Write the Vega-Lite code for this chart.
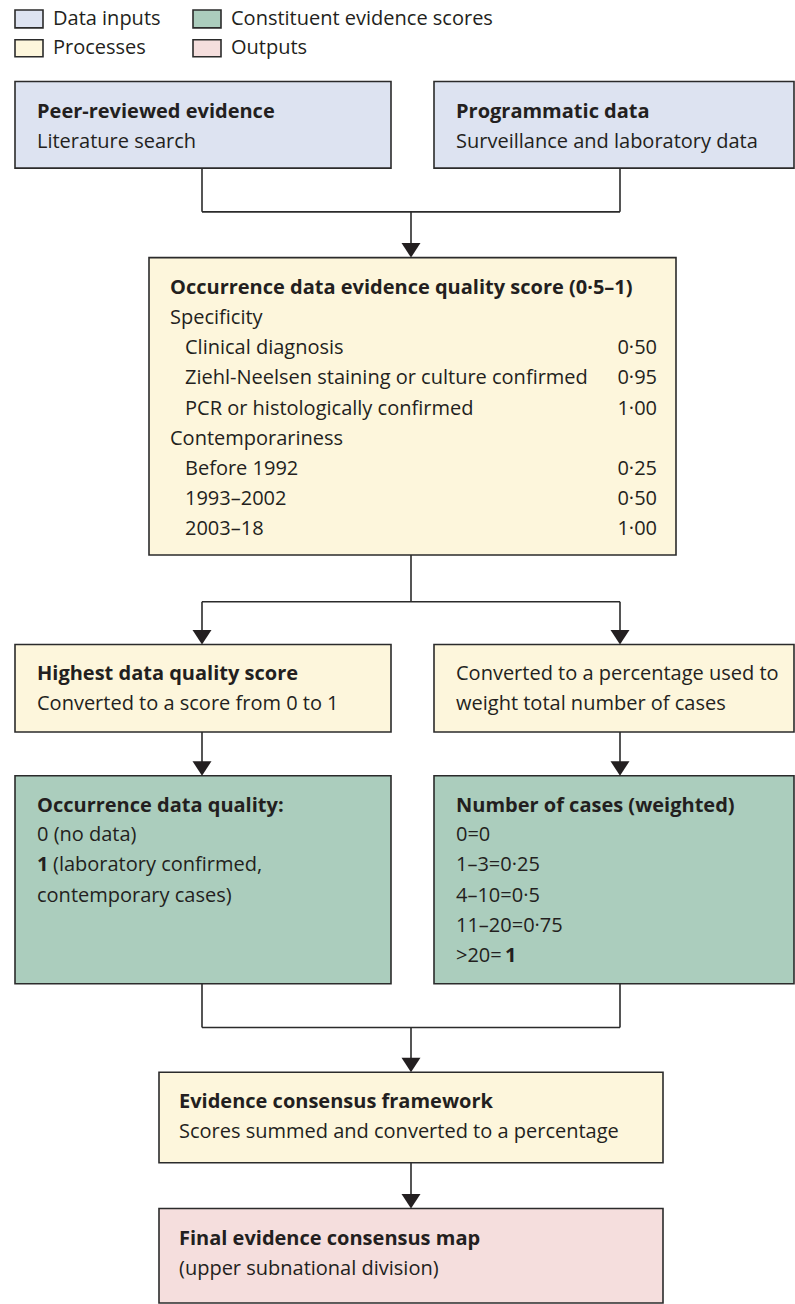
{
  "$schema": "https://vega.github.io/schema/vega-lite/v6.json",
  "width": 795,
  "height": 1304,
  "autosize": {"type": "fit", "contains": "padding"},
  "padding": 0,
  "background": "#ffffff",
  "config": {"view": {"stroke": null}},
  "datasets": {
    "boxes": [
      {"id": "legend1", "category": "Data inputs", "x": 15, "x2": 43, "y": 10, "y2": 28},
      {"id": "legend2", "category": "Processes", "x": 15, "x2": 43, "y": 40, "y2": 57},
      {"id": "legend3", "category": "Constituent evidence scores", "x": 193, "x2": 221, "y": 10, "y2": 28},
      {"id": "legend4", "category": "Outputs", "x": 193, "x2": 221, "y": 40, "y2": 57},
      {"id": "peer", "category": "Data inputs", "x": 15, "x2": 391, "y": 82, "y2": 169},
      {"id": "prog", "category": "Data inputs", "x": 434, "x2": 794, "y": 82, "y2": 169},
      {"id": "occ", "category": "Processes", "x": 149, "x2": 676, "y": 259, "y2": 558},
      {"id": "high", "category": "Processes", "x": 15, "x2": 391, "y": 648, "y2": 736},
      {"id": "conv", "category": "Processes", "x": 434, "x2": 794, "y": 648, "y2": 736},
      {"id": "qual", "category": "Constituent evidence scores", "x": 15, "x2": 391, "y": 780, "y2": 989},
      {"id": "cases", "category": "Constituent evidence scores", "x": 434, "x2": 794, "y": 780, "y2": 989},
      {"id": "ecf", "category": "Processes", "x": 159, "x2": 663, "y": 1078, "y2": 1169},
      {"id": "final", "category": "Outputs", "x": 159, "x2": 663, "y": 1215, "y2": 1310}
    ],
    "links": [
      {"x": 202, "y": 169, "x2": 202, "y2": 213},
      {"x": 620, "y": 169, "x2": 620, "y2": 213},
      {"x": 202, "y": 213, "x2": 620, "y2": 213},
      {"x": 411, "y": 213, "x2": 411, "y2": 252},
      {"x": 411, "y": 558, "x2": 411, "y2": 605},
      {"x": 202, "y": 605, "x2": 620, "y2": 605},
      {"x": 202, "y": 605, "x2": 202, "y2": 642},
      {"x": 620, "y": 605, "x2": 620, "y2": 642},
      {"x": 202, "y": 736, "x2": 202, "y2": 774},
      {"x": 620, "y": 736, "x2": 620, "y2": 774},
      {"x": 202, "y": 989, "x2": 202, "y2": 1033},
      {"x": 620, "y": 989, "x2": 620, "y2": 1033},
      {"x": 202, "y": 1033, "x2": 620, "y2": 1033},
      {"x": 411, "y": 1033, "x2": 411, "y2": 1072},
      {"x": 411, "y": 1169, "x2": 411, "y2": 1209}
    ],
    "arrows": [
      {"x": 411, "y": 259},
      {"x": 202, "y": 648},
      {"x": 620, "y": 648},
      {"x": 202, "y": 780},
      {"x": 620, "y": 780},
      {"x": 411, "y": 1078},
      {"x": 411, "y": 1215}
    ],
    "labels": [
      {"role": "legend", "x": 53, "y": 19, "text": "Data inputs"},
      {"role": "legend", "x": 53, "y": 48, "text": "Processes"},
      {"role": "legend", "x": 231, "y": 19, "text": "Constituent evidence scores"},
      {"role": "legend", "x": 231, "y": 48, "text": "Outputs"},
      {"role": "heading", "x": 37, "y": 113, "text": "Peer-reviewed evidence"},
      {"role": "body", "x": 37, "y": 143, "text": "Literature search"},
      {"role": "heading", "x": 456, "y": 113, "text": "Programmatic data"},
      {"role": "body", "x": 456, "y": 143, "text": "Surveillance and laboratory data"},
      {"role": "heading", "x": 170, "y": 290, "text": "Occurrence data evidence quality score (0·5–1)"},
      {"role": "body", "x": 170, "y": 320, "text": "Specificity"},
      {"role": "body", "x": 185, "y": 350, "text": "Clinical diagnosis"},
      {"role": "score", "x": 657, "y": 350, "text": "0·50"},
      {"role": "body", "x": 185, "y": 380, "text": "Ziehl-Neelsen staining or culture confirmed"},
      {"role": "score", "x": 657, "y": 380, "text": "0·95"},
      {"role": "body", "x": 185, "y": 411, "text": "PCR or histologically confirmed"},
      {"role": "score", "x": 657, "y": 411, "text": "1·00"},
      {"role": "body", "x": 170, "y": 441, "text": "Contemporariness"},
      {"role": "body", "x": 185, "y": 472, "text": "Before 1992"},
      {"role": "score", "x": 657, "y": 472, "text": "0·25"},
      {"role": "body", "x": 185, "y": 502, "text": "1993–2002"},
      {"role": "score", "x": 657, "y": 502, "text": "0·50"},
      {"role": "body", "x": 185, "y": 532, "text": "2003–18"},
      {"role": "score", "x": 657, "y": 532, "text": "1·00"},
      {"role": "heading", "x": 37, "y": 678, "text": "Highest data quality score"},
      {"role": "body", "x": 37, "y": 708, "text": "Converted to a score from 0 to 1"},
      {"role": "body", "x": 456, "y": 678, "text": "Converted to a percentage used to"},
      {"role": "body", "x": 456, "y": 708, "text": "weight total number of cases"},
      {"role": "heading", "x": 37, "y": 810, "text": "Occurrence data quality:"},
      {"role": "body", "x": 37, "y": 840, "text": "0 (no data)"},
      {"role": "heading", "x": 37, "y": 870, "text": "1"},
      {"role": "body", "x": 53, "y": 870, "text": "(laboratory confirmed,"},
      {"role": "body", "x": 37, "y": 901, "text": "contemporary cases)"},
      {"role": "heading", "x": 456, "y": 810, "text": "Number of cases (weighted)"},
      {"role": "body", "x": 456, "y": 840, "text": "0=0"},
      {"role": "body", "x": 456, "y": 870, "text": "1–3=0·25"},
      {"role": "body", "x": 456, "y": 901, "text": "4–10=0·5"},
      {"role": "body", "x": 456, "y": 931, "text": "11–20=0·75"},
      {"role": "body", "x": 456, "y": 961, "text": ">20="},
      {"role": "heading", "x": 505, "y": 961, "text": "1"},
      {"role": "heading", "x": 179, "y": 1108, "text": "Evidence consensus framework"},
      {"role": "body", "x": 179, "y": 1138, "text": "Scores summed and converted to a percentage"},
      {"role": "heading", "x": 179, "y": 1246, "text": "Final evidence consensus map"},
      {"role": "body", "x": 179, "y": 1276, "text": "(upper subnational division)"}
    ]
  },
  "layer": [
    {
      "data": {"name": "boxes"},
      "mark": {"type": "rect", "stroke": "#2b2b2b", "strokeWidth": 1.6},
      "encoding": {
        "x": {"field": "x", "type": "quantitative", "scale": {"domain": [0, 795], "nice": false, "zero": false}, "axis": null},
        "x2": {"field": "x2"},
        "y": {"field": "y", "type": "quantitative", "scale": {"domain": [0, 1304], "nice": false, "zero": false, "reverse": true}, "axis": null},
        "y2": {"field": "y2"},
        "fill": {"field": "category", "type": "nominal", "legend": null,
          "scale": {"domain": ["Data inputs", "Processes", "Constituent evidence scores", "Outputs"],
                    "range": ["#dde3f1", "#fdf6dc", "#abcdbd", "#f5dedd"]}}
      }
    },
    {
      "data": {"name": "links"},
      "mark": {"type": "rule", "stroke": "#2b2b2b", "strokeWidth": 1.6},
      "encoding": {
        "x": {"field": "x", "type": "quantitative"},
        "x2": {"field": "x2"},
        "y": {"field": "y", "type": "quantitative"},
        "y2": {"field": "y2"}
      }
    },
    {
      "data": {"name": "arrows"},
      "mark": {"type": "point", "shape": "M-0.65,-1L0.65,-1L0,0Z", "filled": true, "fill": "#231f20", "stroke": null, "size": 850, "opacity": 1},
      "encoding": {
        "x": {"field": "x", "type": "quantitative"},
        "y": {"field": "y", "type": "quantitative"}
      }
    },
    {
      "data": {"name": "labels"},
      "transform": [{"filter": "datum.role === 'body' || datum.role === 'legend'"}],
      "mark": {"type": "text", "align": "left", "baseline": "middle", "font": "Open Sans", "fontSize": 20, "color": "#231f20"},
      "encoding": {
        "x": {"field": "x", "type": "quantitative"},
        "y": {"field": "y", "type": "quantitative"},
        "text": {"field": "text"}
      }
    },
    {
      "data": {"name": "labels"},
      "transform": [{"filter": "datum.role === 'heading'"}],
      "mark": {"type": "text", "align": "left", "baseline": "middle", "font": "Open Sans", "fontSize": 20, "fontWeight": "bold", "color": "#231f20"},
      "encoding": {
        "x": {"field": "x", "type": "quantitative"},
        "y": {"field": "y", "type": "quantitative"},
        "text": {"field": "text"}
      }
    },
    {
      "data": {"name": "labels"},
      "transform": [{"filter": "datum.role === 'score'"}],
      "mark": {"type": "text", "align": "right", "baseline": "middle", "font": "Open Sans", "fontSize": 20, "color": "#231f20"},
      "encoding": {
        "x": {"field": "x", "type": "quantitative"},
        "y": {"field": "y", "type": "quantitative"},
        "text": {"field": "text"}
      }
    }
  ]
}
